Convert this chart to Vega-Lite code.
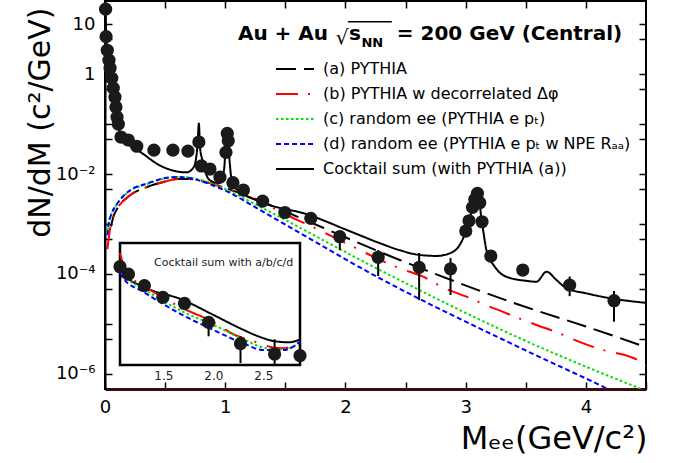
{
  "$schema": "https://vega.github.io/schema/vega-lite/v6.json",
  "width": 541,
  "height": 388,
  "autosize": {"type": "none"},
  "padding": {"left": 105, "top": 1, "right": 28, "bottom": 74},
  "background": "white",
  "config": {
    "font": "DejaVu Sans",
    "view": {"stroke": "black", "strokeWidth": 2},
    "axis": {"grid": false, "labelColor": "black", "titleColor": "black", "tickColor": "black", "domainColor": "black", "labelFont": "DejaVu Sans", "titleFont": "DejaVu Sans"},
    "legend": {"labelFont": "DejaVu Sans"}
  },
  "datasets": {
    "pts": [
      {"m": 0.005, "v": 19.9}, {"m": 0.009, "v": 5.6}, {"m": 0.019, "v": 3.0}, {"m": 0.033, "v": 1.9},
      {"m": 0.042, "v": 1.32}, {"m": 0.056, "v": 0.83}, {"m": 0.069, "v": 0.525}, {"m": 0.083, "v": 0.347},
      {"m": 0.091, "v": 0.219}, {"m": 0.1, "v": 0.138}, {"m": 0.111, "v": 0.1}, {"m": 0.133, "v": 0.055},
      {"m": 0.194, "v": 0.048}, {"m": 0.264, "v": 0.036}, {"m": 0.407, "v": 0.03}, {"m": 0.565, "v": 0.03},
      {"m": 0.69, "v": 0.0288}, {"m": 0.781, "v": 0.0437}, {"m": 0.802, "v": 0.0145}, {"m": 0.873, "v": 0.0126},
      {"m": 0.956, "v": 0.0087}, {"m": 1.006, "v": 0.0272}, {"m": 1.017, "v": 0.0652}, {"m": 1.025, "v": 0.0463},
      {"m": 1.064, "v": 0.0067}, {"m": 1.151, "v": 0.00479}, {"m": 1.311, "v": 0.00288}, {"m": 1.496, "v": 0.0017},
      {"m": 1.712, "v": 0.0013},
      {"m": 1.953, "v": 0.000557, "lo": 0.0003, "hi": 0.0007},
      {"m": 2.272, "v": 0.000216, "lo": 0.000091, "hi": 0.0003},
      {"m": 2.613, "v": 0.000136, "lo": 0.00003, "hi": 0.000263},
      {"m": 2.874, "v": 0.000127, "lo": 0.000038, "hi": 0.000209},
      {"m": 3.001, "v": 0.000724}, {"m": 3.028, "v": 0.00116}, {"m": 3.057, "v": 0.00216}, {"m": 3.076, "v": 0.00312},
      {"m": 3.098, "v": 0.00411}, {"m": 3.117, "v": 0.00267}, {"m": 3.136, "v": 0.00111}, {"m": 3.209, "v": 0.000229},
      {"m": 3.475, "v": 0.00012},
      {"m": 3.865, "v": 0.00006, "lo": 0.000036, "hi": 0.000089},
      {"m": 4.234, "v": 0.0000292, "lo": 0.0000111, "hi": 0.0000457}
    ],
    "curves": [
      {"series": "a", "m": 0.05, "v": 0.00089}, {"series": "a", "m": 0.07, "v": 0.00141}, {"series": "a", "m": 0.1, "v": 0.002},
      {"series": "a", "m": 0.2, "v": 0.00363}, {"series": "a", "m": 0.35, "v": 0.0055}, {"series": "a", "m": 0.5, "v": 0.00708},
      {"series": "a", "m": 0.6, "v": 0.00794}, {"series": "a", "m": 0.7, "v": 0.00794}, {"series": "a", "m": 0.8, "v": 0.00724},
      {"series": "a", "m": 0.9, "v": 0.00631}, {"series": "a", "m": 1.0, "v": 0.00525}, {"series": "a", "m": 1.2, "v": 0.00355},
      {"series": "a", "m": 1.371, "v": 0.0024}, {"series": "a", "m": 2.452, "v": 0.000191}, {"series": "a", "m": 3.45, "v": 0.000024},
      {"series": "a", "m": 4.0, "v": 0.0000089}, {"series": "a", "m": 4.5, "v": 0.00000345},

      {"series": "b", "m": 0.02, "v": 0.000316}, {"series": "b", "m": 0.03, "v": 0.0005}, {"series": "b", "m": 0.05, "v": 0.001},
      {"series": "b", "m": 0.07, "v": 0.00141}, {"series": "b", "m": 0.1, "v": 0.002}, {"series": "b", "m": 0.2, "v": 0.00363},
      {"series": "b", "m": 0.35, "v": 0.0055}, {"series": "b", "m": 0.5, "v": 0.00708}, {"series": "b", "m": 0.6, "v": 0.00794},
      {"series": "b", "m": 0.7, "v": 0.00794}, {"series": "b", "m": 0.8, "v": 0.00724}, {"series": "b", "m": 0.9, "v": 0.00631},
      {"series": "b", "m": 1.0, "v": 0.00525}, {"series": "b", "m": 1.2, "v": 0.00347}, {"series": "b", "m": 1.371, "v": 0.00229},
      {"series": "b", "m": 1.454, "v": 0.00178}, {"series": "b", "m": 1.72, "v": 0.00089}, {"series": "b", "m": 2.09, "v": 0.000327},
      {"series": "b", "m": 2.26, "v": 0.000206}, {"series": "b", "m": 2.452, "v": 0.00013}, {"series": "b", "m": 2.646, "v": 0.0000883},
      {"series": "b", "m": 2.826, "v": 0.0000518}, {"series": "b", "m": 3.007, "v": 0.0000352}, {"series": "b", "m": 3.2, "v": 0.0000222},
      {"series": "b", "m": 3.394, "v": 0.0000145}, {"series": "b", "m": 3.589, "v": 0.00000955}, {"series": "b", "m": 3.768, "v": 0.0000067},
      {"series": "b", "m": 3.962, "v": 0.00000423}, {"series": "b", "m": 4.142, "v": 0.00000302}, {"series": "b", "m": 4.364, "v": 0.00000222},
      {"series": "b", "m": 4.43, "v": 0.00000191}, {"series": "b", "m": 4.5, "v": 0.00000145},

      {"series": "c", "m": 0.02, "v": 0.0006}, {"series": "c", "m": 0.03, "v": 0.001}, {"series": "c", "m": 0.05, "v": 0.0015},
      {"series": "c", "m": 0.1, "v": 0.00251}, {"series": "c", "m": 0.2, "v": 0.00447}, {"series": "c", "m": 0.35, "v": 0.00631},
      {"series": "c", "m": 0.5, "v": 0.00813}, {"series": "c", "m": 0.6, "v": 0.0087}, {"series": "c", "m": 0.7, "v": 0.0085},
      {"series": "c", "m": 0.8, "v": 0.00759}, {"series": "c", "m": 0.9, "v": 0.00631}, {"series": "c", "m": 1.0, "v": 0.005},
      {"series": "c", "m": 1.289, "v": 0.00222}, {"series": "c", "m": 2.286, "v": 0.00012}, {"series": "c", "m": 3.45, "v": 0.00000518},
      {"series": "c", "m": 4.5, "v": 0.000000457},

      {"series": "d", "m": 0.02, "v": 0.0006}, {"series": "d", "m": 0.03, "v": 0.001}, {"series": "d", "m": 0.05, "v": 0.0015},
      {"series": "d", "m": 0.1, "v": 0.00251}, {"series": "d", "m": 0.2, "v": 0.00457}, {"series": "d", "m": 0.35, "v": 0.00646},
      {"series": "d", "m": 0.5, "v": 0.00832}, {"series": "d", "m": 0.6, "v": 0.0087}, {"series": "d", "m": 0.7, "v": 0.00832},
      {"series": "d", "m": 0.8, "v": 0.00724}, {"series": "d", "m": 0.9, "v": 0.00589}, {"series": "d", "m": 1.0, "v": 0.00468},
      {"series": "d", "m": 1.289, "v": 0.00191}, {"series": "d", "m": 2.286, "v": 0.000082}, {"series": "d", "m": 3.491, "v": 0.00000302},
      {"series": "d", "m": 4.142, "v": 0.000000557}, {"series": "d", "m": 4.6, "v": 0.000000158},

      {"series": "sum", "m": 0.001, "v": 40}, {"series": "sum", "m": 0.005, "v": 19}, {"series": "sum", "m": 0.01, "v": 5.8},
      {"series": "sum", "m": 0.02, "v": 3.0}, {"series": "sum", "m": 0.03, "v": 2.0}, {"series": "sum", "m": 0.045, "v": 1.2},
      {"series": "sum", "m": 0.06, "v": 0.75}, {"series": "sum", "m": 0.075, "v": 0.45}, {"series": "sum", "m": 0.09, "v": 0.24},
      {"series": "sum", "m": 0.105, "v": 0.13}, {"series": "sum", "m": 0.12, "v": 0.075}, {"series": "sum", "m": 0.14, "v": 0.05},
      {"series": "sum", "m": 0.2, "v": 0.038}, {"series": "sum", "m": 0.29, "v": 0.028}, {"series": "sum", "m": 0.46, "v": 0.0147},
      {"series": "sum", "m": 0.68, "v": 0.0108}, {"series": "sum", "m": 0.74, "v": 0.014}, {"series": "sum", "m": 0.77, "v": 0.04},
      {"series": "sum", "m": 0.781, "v": 0.103}, {"series": "sum", "m": 0.79, "v": 0.035}, {"series": "sum", "m": 0.81, "v": 0.019},
      {"series": "sum", "m": 0.87, "v": 0.0076}, {"series": "sum", "m": 0.95, "v": 0.0066}, {"series": "sum", "m": 0.99, "v": 0.012},
      {"series": "sum", "m": 1.005, "v": 0.04}, {"series": "sum", "m": 1.02, "v": 0.066}, {"series": "sum", "m": 1.035, "v": 0.02},
      {"series": "sum", "m": 1.06, "v": 0.0062}, {"series": "sum", "m": 1.125, "v": 0.0044}, {"series": "sum", "m": 1.29, "v": 0.0028},
      {"series": "sum", "m": 1.7, "v": 0.00151}, {"series": "sum", "m": 2.0, "v": 0.00078}, {"series": "sum", "m": 2.29, "v": 0.00041},
      {"series": "sum", "m": 2.45, "v": 0.0003}, {"series": "sum", "m": 2.62, "v": 0.00024}, {"series": "sum", "m": 2.76, "v": 0.00023},
      {"series": "sum", "m": 2.88, "v": 0.000267}, {"series": "sum", "m": 2.95, "v": 0.00038}, {"series": "sum", "m": 2.99, "v": 0.0006},
      {"series": "sum", "m": 3.03, "v": 0.0012}, {"series": "sum", "m": 3.06, "v": 0.0023}, {"series": "sum", "m": 3.09, "v": 0.0045},
      {"series": "sum", "m": 3.11, "v": 0.0036}, {"series": "sum", "m": 3.13, "v": 0.0013}, {"series": "sum", "m": 3.145, "v": 0.00076},
      {"series": "sum", "m": 3.173, "v": 0.0003}, {"series": "sum", "m": 3.242, "v": 0.00014}, {"series": "sum", "m": 3.339, "v": 0.000088},
      {"series": "sum", "m": 3.505, "v": 0.000073}, {"series": "sum", "m": 3.589, "v": 0.00007}, {"series": "sum", "m": 3.672, "v": 0.000111},
      {"series": "sum", "m": 3.755, "v": 0.000076}, {"series": "sum", "m": 3.838, "v": 0.000052}, {"series": "sum", "m": 4.004, "v": 0.000041},
      {"series": "sum", "m": 4.225, "v": 0.000032}, {"series": "sum", "m": 4.5, "v": 0.0000265}
    ],
    "insetc": [
      {"series": "sum", "m": 1.067, "v": 0.0079}, {"series": "sum", "m": 1.125, "v": 0.0044}, {"series": "sum", "m": 1.29, "v": 0.0028},
      {"series": "sum", "m": 1.7, "v": 0.00151}, {"series": "sum", "m": 2.0, "v": 0.00078}, {"series": "sum", "m": 2.29, "v": 0.00041},
      {"series": "sum", "m": 2.45, "v": 0.0003}, {"series": "sum", "m": 2.62, "v": 0.00024}, {"series": "sum", "m": 2.76, "v": 0.00023},
      {"series": "sum", "m": 2.867, "v": 0.000262},
      {"series": "b", "m": 1.067, "v": 0.0123}, {"series": "b", "m": 1.12, "v": 0.00562}, {"series": "b", "m": 1.2, "v": 0.0038},
      {"series": "b", "m": 1.367, "v": 0.00237}, {"series": "b", "m": 1.767, "v": 0.0009}, {"series": "b", "m": 1.967, "v": 0.000617},
      {"series": "b", "m": 2.217, "v": 0.000318}, {"series": "b", "m": 2.417, "v": 0.000236}, {"series": "b", "m": 2.6, "v": 0.000182},
      {"series": "b", "m": 2.7, "v": 0.000176}, {"series": "b", "m": 2.8, "v": 0.0002}, {"series": "b", "m": 2.867, "v": 0.000254},
      {"series": "c", "m": 1.067, "v": 0.00562}, {"series": "c", "m": 1.1, "v": 0.00462}, {"series": "c", "m": 1.3, "v": 0.00251},
      {"series": "c", "m": 1.5, "v": 0.00145}, {"series": "c", "m": 1.7, "v": 0.00089}, {"series": "c", "m": 2.0, "v": 0.0005},
      {"series": "c", "m": 2.3, "v": 0.000263}, {"series": "c", "m": 2.533, "v": 0.000176}, {"series": "c", "m": 2.7, "v": 0.000166},
      {"series": "c", "m": 2.8, "v": 0.00019}, {"series": "c", "m": 2.867, "v": 0.000236},
      {"series": "d", "m": 1.067, "v": 0.005}, {"series": "d", "m": 1.1, "v": 0.00398}, {"series": "d", "m": 1.3, "v": 0.00219},
      {"series": "d", "m": 1.5, "v": 0.00126}, {"series": "d", "m": 1.7, "v": 0.00076}, {"series": "d", "m": 1.967, "v": 0.000429},
      {"series": "d", "m": 2.3, "v": 0.000219}, {"series": "d", "m": 2.5, "v": 0.000162}, {"series": "d", "m": 2.7, "v": 0.000162},
      {"series": "d", "m": 2.8, "v": 0.00019}, {"series": "d", "m": 2.867, "v": 0.000234}
    ]
  },
  "resolve": {"scale": {"x": "independent", "y": "independent"}},
  "layer": [
    {
      "layer": [
        {
          "data": {"name": "curves"},
          "mark": {"type": "line", "clip": true, "strokeWidth": 2, "interpolate": "monotone"},
          "encoding": {
            "x": {"field": "m", "type": "quantitative",
              "scale": {"domain": [0, 4.5], "nice": false, "zero": false},
              "axis": {"orient": "bottom", "values": [0, 0.5, 1, 1.5, 2, 2.5, 3, 3.5, 4, 4.5],
                "labelExpr": "datum.value % 1 == 0 ? format(datum.value, 'd') : ''",
                "labelFlush": false, "labelOverlap": false, "labelFontSize": 18, "labelPadding": 16,
                "tickSize": -7, "tickWidth": 1.5, "domainColor": "#3d0b0b", "domainWidth": 3,
                "title": "Mₑₑ(GeV/c²)", "titleFontSize": 32, "titleFontWeight": "normal",
                "titleAnchor": "end", "titleAlign": "right", "titleBaseline": "alphabetic", "titleX": 542, "titleY": 59}},
            "y": {"field": "v", "type": "quantitative",
              "scale": {"type": "log", "domain": [5e-7, 29], "nice": false},
              "axis": {"orient": "left", "values": [10, 5, 1, 0.5, 0.1, 0.05, 0.01, 0.005, 0.001, 0.0005, 0.0001, 0.00005, 0.00001, 0.000005, 0.000001],
                "labelExpr": "datum.value == 10 ? '10' : datum.value == 1 ? '1' : datum.value == 0.01 ? '10⁻²' : datum.value == 0.0001 ? '10⁻⁴' : datum.value == 0.000001 ? '10⁻⁶' : ''",
                "labelFlush": false, "labelOverlap": false, "labelFontSize": 18, "labelPadding": 17,
                "tickSize": -7, "tickWidth": 1.5, "domainWidth": 2,
                "title": "dN/dM (c²/GeV)", "titleFontSize": 30, "titleFontWeight": "normal",
                "titleAnchor": "end", "titleAlign": "right", "titleAngle": -90, "titleBaseline": "alphabetic", "titleX": -56, "titleY": 6}},
            "color": {"field": "series", "type": "nominal",
              "scale": {"domain": ["a", "b", "c", "d", "sum"], "range": ["#000000", "#ff0000", "#00e000", "#0000ff", "#000000"]},
              "legend": {"orient": "none", "legendX": 170, "legendY": 58, "title": null, "symbolType": "stroke", "symbolSize": 1444,
                "symbolStrokeWidth": 2, "clipHeight": 20, "rowPadding": 5, "labelFontSize": 16, "labelOffset": 8, "labelColor": "black", "labelLimit": 500, "padding": 0,
                "labelExpr": "datum.value == 'a' ? '(a) PYTHIA' : datum.value == 'b' ? '(b) PYTHIA w decorrelated Δφ' : datum.value == 'c' ? '(c) random ee (PYTHIA e pₜ)' : datum.value == 'd' ? '(d) random ee (PYTHIA e pₜ w NPE Rₐₐ)' : 'Cocktail sum (with PYTHIA (a))'"}},
            "strokeDash": {"field": "series", "type": "nominal",
              "scale": {"domain": ["a", "b", "c", "d", "sum"], "range": [[20, 8], [22, 10, 2, 11], [2.5, 2.5], [5, 3], [1, 0]]},
              "legend": {"orient": "none", "legendX": 170, "legendY": 58, "title": null, "symbolType": "stroke", "symbolSize": 1444,
                "symbolStrokeWidth": 2, "clipHeight": 20, "rowPadding": 5, "labelFontSize": 16, "labelOffset": 8, "labelColor": "black", "labelLimit": 500, "padding": 0,
                "labelExpr": "datum.value == 'a' ? '(a) PYTHIA' : datum.value == 'b' ? '(b) PYTHIA w decorrelated Δφ' : datum.value == 'c' ? '(c) random ee (PYTHIA e pₜ)' : datum.value == 'd' ? '(d) random ee (PYTHIA e pₜ w NPE Rₐₐ)' : 'Cocktail sum (with PYTHIA (a))'"}}
          }
        },
        {
          "data": {"name": "pts"},
          "transform": [{"filter": "isValid(datum.lo)"}],
          "mark": {"type": "rule", "clip": true, "strokeWidth": 2, "color": "black"},
          "encoding": {
            "x": {"field": "m", "type": "quantitative"},
            "y": {"field": "lo", "type": "quantitative"},
            "y2": {"field": "hi"}
          }
        },
        {
          "data": {"name": "pts"},
          "mark": {"type": "circle", "size": 175, "opacity": 1, "color": "#1a1a1a"},
          "encoding": {
            "x": {"field": "m", "type": "quantitative"},
            "y": {"field": "v", "type": "quantitative"}
          }
        },
        {
          "data": {"values": [{}]},
          "mark": {"type": "text", "text": "Au + Au", "fontSize": 20, "fontWeight": "bold", "align": "left", "baseline": "alphabetic", "color": "black"},
          "encoding": {"x": {"datum": 1.1056}, "y": {"datum": 4.786}}
        },
        {
          "data": {"values": [{}]},
          "mark": {"type": "text", "text": "√", "fontSize": 20, "align": "left", "baseline": "alphabetic", "color": "black"},
          "encoding": {"x": {"datum": 1.92}, "y": {"datum": 3.98}}
        },
        {
          "data": {"values": [{}]},
          "mark": {"type": "text", "text": "s", "fontSize": 20, "fontWeight": "bold", "align": "left", "baseline": "alphabetic", "color": "black"},
          "encoding": {"x": {"datum": 2.03}, "y": {"datum": 4.786}}
        },
        {
          "data": {"values": [{}]},
          "mark": {"type": "text", "text": "NN", "fontSize": 13, "fontWeight": "bold", "align": "left", "baseline": "alphabetic", "color": "black"},
          "encoding": {"x": {"datum": 2.133}, "y": {"datum": 3.47}}
        },
        {
          "data": {"values": [{}]},
          "mark": {"type": "text", "text": "= 200 GeV (Central)", "fontSize": 20, "fontWeight": "bold", "align": "left", "baseline": "alphabetic", "color": "black"},
          "encoding": {"x": {"datum": 2.427}, "y": {"datum": 4.786}}
        },
        {
          "data": {"values": [{}]},
          "mark": {"type": "rule", "strokeWidth": 1.5, "color": "black"},
          "encoding": {"x": {"datum": 2.02}, "x2": {"datum": 2.386}, "y": {"datum": 11.2}}
        }
      ]
    },
    {
      "data": {"name": "pts"},
      "mark": {"type": "point", "opacity": 0},
      "encoding": {
        "x": {"field": "m", "type": "quantitative", "scale": {"domain": [0, 4.5], "nice": false, "zero": false},
          "axis": {"orient": "top", "values": [0.5, 1, 1.5, 2, 2.5, 3, 3.5, 4], "labels": false, "domain": false, "tickSize": -7, "tickWidth": 1.5, "title": null}},
        "y": {"field": "v", "type": "quantitative", "scale": {"type": "log", "domain": [5e-7, 29], "nice": false},
          "axis": {"orient": "right", "values": [10, 5, 1, 0.5, 0.1, 0.05, 0.01, 0.005, 0.001, 0.0005, 0.0001, 0.00005, 0.00001, 0.000005, 0.000001], "labels": false, "domain": false, "tickSize": -7, "tickWidth": 1.5, "title": null}}
      }
    },
    {
      "layer": [
        {
          "data": {"values": [{}]},
          "mark": {"type": "rect", "fill": "white", "stroke": "black", "strokeWidth": 2.5},
          "encoding": {
            "x": {"datum": 1.067, "type": "quantitative", "scale": {"domain": [1.067, 2.867], "range": [15, 195], "nice": false, "zero": false, "clamp": true},
              "axis": {"orient": "bottom", "offset": -24, "values": [1.5, 2, 2.5], "labelFlush": false, "labelOverlap": false, "labelFontSize": 12, "labelColor": "#222222", "labelPadding": 10, "tickSize": -5, "tickWidth": 1.2, "domain": false, "title": null}},
            "x2": {"datum": 2.867},
            "y": {"datum": 0.0000834, "type": "quantitative", "scale": {"type": "log", "domain": [0.0000834, 0.0193], "range": [364, 242], "nice": false, "clamp": true},
              "axis": {"orient": "left", "offset": -15, "values": [0.01, 0.001, 0.0001], "labels": false, "tickSize": -5, "tickWidth": 1.2, "domain": false, "title": null}},
            "y2": {"datum": 0.0193}
          }
        },
        {
          "data": {"name": "insetc"},
          "mark": {"type": "line", "strokeWidth": 2, "interpolate": "monotone"},
          "encoding": {
            "x": {"field": "m", "type": "quantitative"},
            "y": {"field": "v", "type": "quantitative"},
            "color": {"field": "series", "type": "nominal"},
            "strokeDash": {"field": "series", "type": "nominal"}
          }
        },
        {
          "data": {"name": "pts"},
          "transform": [{"filter": "isValid(datum.lo) && datum.m > 1.05 && datum.m < 2.9"}],
          "mark": {"type": "rule", "strokeWidth": 2, "color": "black"},
          "encoding": {
            "x": {"field": "m", "type": "quantitative"},
            "y": {"field": "lo", "type": "quantitative"},
            "y2": {"field": "hi"}
          }
        },
        {
          "data": {"name": "pts"},
          "transform": [{"filter": "datum.m > 1.05 && datum.m < 2.9"}],
          "mark": {"type": "circle", "size": 175, "opacity": 1, "color": "#1a1a1a"},
          "encoding": {
            "x": {"field": "m", "type": "quantitative"},
            "y": {"field": "v", "type": "quantitative"}
          }
        },
        {
          "data": {"values": [{}]},
          "mark": {"type": "text", "text": "Cocktail sum with a/b/c/d", "fontSize": 11, "align": "left", "baseline": "alphabetic", "color": "#222222"},
          "encoding": {"x": {"datum": 1.407}, "y": {"datum": 0.0069}}
        }
      ]
    }
  ]
}
